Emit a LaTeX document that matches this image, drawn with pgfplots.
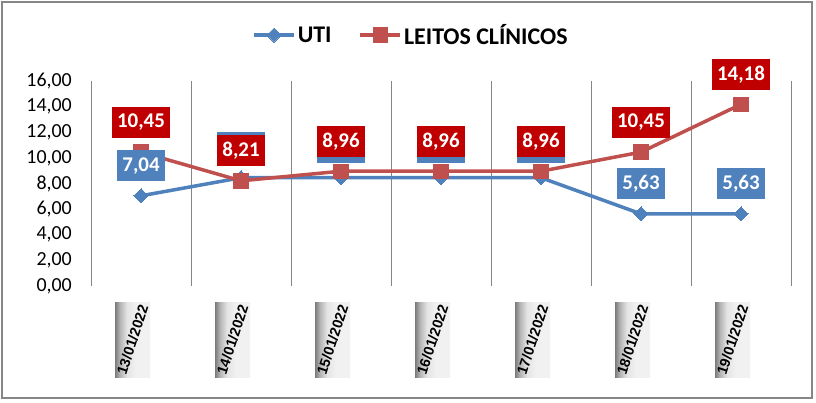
\documentclass[border=0pt]{standalone}
\usepackage{pgfplots}
\pgfplotsset{compat=1.18}
\usepackage{fontspec}
\setmainfont{Carlito}
\newfontfamily\arialfont{Liberation Sans}
\usepackage{graphicx}
\definecolor{utiblue}{HTML}{4F81BD}
\definecolor{leitred}{HTML}{C0504D}
\definecolor{labred}{HTML}{C00000}
\definecolor{framegray}{HTML}{868686}
\definecolor{shdark}{HTML}{7A7A7A}
\definecolor{shmid}{HTML}{B4B4B4}
\definecolor{shpale}{HTML}{E4E4E4}
\definecolor{shlight}{HTML}{F1F1F1}
\pgfdeclarehorizontalshading{tickshade}{100bp}{color(0bp)=(shdark); color(25bp)=(shdark); color(32bp)=(shmid); color(42bp)=(shpale); color(55bp)=(shlight); color(100bp)=(shlight)}
\newcommand{\dl}[1]{\rotatebox{72}{#1}}
\begin{document}
\begin{tikzpicture}[x=1bp,y=1bp]
\fill[white] (0,0) rectangle (816,402);
\draw[framegray, line width=2bp] (2,4) rectangle (812,400);
\begin{axis}[
  at={(91bp,116bp)}, anchor=south west,
  scale only axis, width=700bp, height=205bp,
  xmin=-0.5, xmax=6.5, ymin=0, ymax=16,
  ytick={0,2,...,16},
  xtick={0,...,6},
  xticklabels={{\dl{13/01/2022}},{\dl{14/01/2022}},{\dl{15/01/2022}},{\dl{16/01/2022}},{\dl{17/01/2022}},{\dl{18/01/2022}},{\dl{19/01/2022}}},
  minor xtick={-0.5,0.5,...,6.5},
  xminorgrids, minor x grid style={framegray, line width=1bp},
  axis line style={draw=none},
  tick style={draw=none},
  major tick length=0pt, minor tick length=0pt,
  /pgf/number format/fixed, /pgf/number format/fixed zerofill,
  /pgf/number format/precision=2, /pgf/number format/use comma,
  /pgf/number format/assume math mode=true,
  yticklabel style={font=\fontsize{20}{20}\selectfont, inner sep=0pt, anchor=east, xshift=-19bp},
  xticklabel style={font=\arialfont\bfseries\fontsize{14.5}{14.5}\selectfont, anchor=north, yshift=-16bp, xshift=-8.5bp,
     inner sep=0pt, minimum width=35bp, minimum height=75bp, shading=tickshade},
  legend style={at={(0.457,1.224)}, anchor=center, draw=none, fill=none, legend columns=2,
     font=\bfseries\fontsize{24}{24}\selectfont, /tikz/every even column/.append style={column sep=25bp}},
  legend image code/.code={\draw[mark repeat=2,mark phase=2,#1] plot coordinates {(0bp,0bp) (20bp,0bp) (40bp,0bp)};},
  clip=false,
]
\addplot[utiblue, line width=3.5bp, mark=square*, mark size=5bp, mark options={rotate=45, solid, line width=0bp}]
  coordinates {(0,7.04) (1,8.45) (2,8.45) (3,8.45) (4,8.45) (5,5.63) (6,5.63)};
\addlegendentry{UTI}
\addplot[leitred, line width=3.5bp, mark=square*, mark size=7.2bp, mark options={solid, line width=0bp}]
  coordinates {(0,10.45) (1,8.21) (2,8.96) (3,8.96) (4,8.96) (5,10.45) (6,14.18)};
\addlegendentry{LEITOS CLÍNICOS}
\addplot[draw=none, mark=none, forget plot, nodes near coords,
  every node near coord/.append style={fill=utiblue, text=white, font=\bfseries\fontsize{21}{21}\selectfont,
     anchor=center, yshift=30bp, inner xsep=5.5bp, inner ysep=0pt, minimum height=31bp}]
  coordinates {(0,7.04) (1,8.45) (2,8.45) (3,8.45) (4,8.45) (5,5.63) (6,5.63)};
\addplot[draw=none, mark=none, forget plot, nodes near coords,
  every node near coord/.append style={fill=labred, text=white, font=\bfseries\fontsize{21}{21}\selectfont,
     anchor=center, yshift=30bp, inner xsep=5.5bp, inner ysep=0pt, minimum height=31bp}]
  coordinates {(0,10.45) (1,8.21) (2,8.96) (3,8.96) (4,8.96) (5,10.45) (6,14.18)};
\end{axis}
\end{tikzpicture}
\end{document}
